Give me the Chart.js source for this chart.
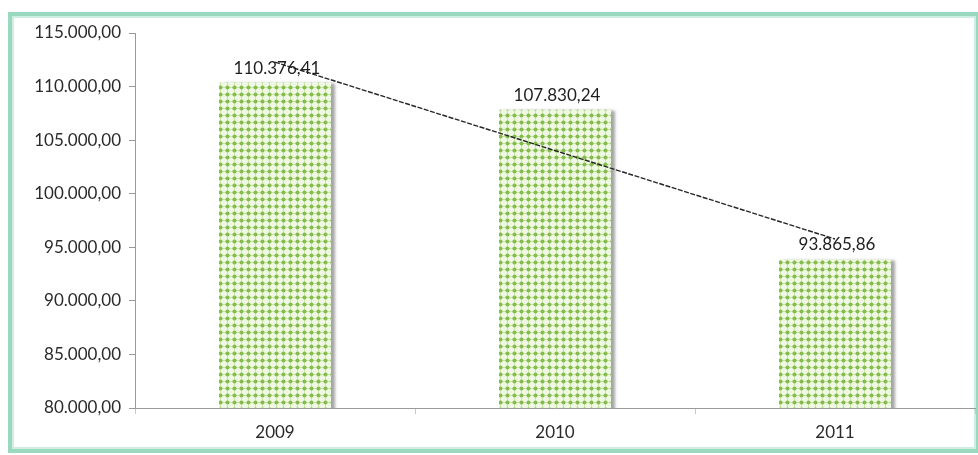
<!DOCTYPE html>
<html>
<head>
<meta charset="utf-8">
<script src="https://cdn.jsdelivr.net/npm/chart.js@4/dist/chart.umd.min.js"></script>
<style>
  html, body { margin: 0; padding: 0; background: #fff; }
  #wrap { width: 978px; height: 455px; position: relative; }
</style>
</head>
<body>
<div id="wrap"><canvas id="valueChart"></canvas></div>
<script>
// Yearly totals with a linear trend line
const years = ['2009', '2010', '2011'];
const totals = [110376.41, 107830.24, 93865.86];
const trendValues = [112280, 104025, 95770];
const yTicks = [80000, 85000, 90000, 95000, 100000, 105000, 110000, 115000];

const FONT = 'Lato, "Open Sans", sans-serif';

// 110376.41 -> "110.376,41"
function fmt(v) {
    const parts = v.toFixed(2).split('.');
    const intPart = parts[0].replace(/\B(?=(\d{3})+(?!\d))/g, '.');
    return intPart + ',' + parts[1];
}

// green dotted fill for the bars
function dotPattern() {
    const c = document.createElement('canvas');
    c.width = 7;
    c.height = 7;
    const p = c.getContext('2d');
    p.fillStyle = '#eef8e2';
    p.fillRect(0, 0, 7, 7);
    p.fillStyle = '#cbe6a8';
    p.fillRect(0, 3, 7, 1);
    p.fillRect(3, 0, 1, 7);
    p.fillStyle = '#86bb4e';
    p.beginPath();
    p.arc(3.5, 3.5, 2.1, 0, Math.PI * 2);
    p.fill();
    return p.createPattern(c, 'repeat');
}

const framePlugin = {
    id: 'frame',
    beforeDraw(chart) {
        const c = chart.ctx;
        c.save();
        c.fillStyle = '#fff';
        c.fillRect(0, 0, chart.width, chart.height);
        c.strokeStyle = '#9bd8c0';
        c.lineWidth = 4;
        c.strokeRect(10, 14, 968, 437);
        c.strokeStyle = '#cdefe2';
        c.lineWidth = 2;
        c.strokeRect(13, 17, 962, 431);
        c.restore();
    }
};

const shadowPlugin = {
    id: 'barShadow',
    beforeDatasetDraw(chart, args) {
        if (args.meta.type !== 'bar') return;
        const c = chart.ctx;
        c.save();
        c.shadowColor = 'rgba(0, 0, 0, 0.35)';
        c.shadowOffsetX = 4;
        c.shadowOffsetY = 1;
        c.shadowBlur = 3;
    },
    afterDatasetDraw(chart, args) {
        if (args.meta.type !== 'bar') return;
        chart.ctx.restore();
    }
};

const labelPlugin = {
    id: 'barLabels',
    afterDatasetsDraw(chart) {
        const c = chart.ctx;
        const meta = chart.getDatasetMeta(0);
        c.save();
        c.font = '17px ' + FONT;
        c.fillStyle = '#1e1e1e';
        c.textAlign = 'center';
        c.textBaseline = 'bottom';
        meta.data.forEach((bar, i) => {
            c.fillText(fmt(totals[i]), bar.x + 2, bar.y - 6);
        });
        c.restore();
    }
};

const ctx = document.getElementById('valueChart').getContext('2d');

new Chart(ctx, {
    data: {
        labels: years,
        datasets: [
            {
                type: 'bar',
                data: totals,
                backgroundColor: dotPattern(),
                borderWidth: 0,
                barPercentage: 0.4,
                categoryPercentage: 1,
                order: 1
            },
            {
                type: 'line',
                data: trendValues,
                borderColor: '#262626',
                borderWidth: 1.4,
                borderDash: [5, 1.5],
                pointRadius: 0,
                tension: 0,
                fill: false,
                order: 0
            }
        ]
    },
    options: {
        responsive: true,
        maintainAspectRatio: false,
        animation: false,
        layout: { padding: { top: 33, right: 3, bottom: 0, left: 0 } },
        scales: {
            x: {
                offset: true,
                grid: {
                    display: true,
                    drawOnChartArea: false,
                    offset: true,
                    tickLength: 6,
                    color: '#c8c8c8'
                },
                border: { display: true, color: '#9a9a9a', width: 1 },
                ticks: {
                    color: '#2a2a2a',
                    font: { family: FONT, size: 17 },
                    padding: 8
                },
                afterFit(scale) { scale.height = 47; }
            },
            y: {
                min: 80000,
                max: 115000,
                afterBuildTicks(scale) {
                    scale.ticks = yTicks.map(v => ({ value: v }));
                },
                grid: {
                    display: true,
                    drawOnChartArea: false,
                    tickLength: 6,
                    color: '#9a9a9a'
                },
                border: { display: true, color: '#9a9a9a', width: 1 },
                ticks: {
                    color: '#2a2a2a',
                    font: { family: FONT, size: 17 },
                    padding: 8,
                    callback: (v) => fmt(v)
                },
                afterFit(scale) { scale.width = 135; }
            }
        },
        plugins: {
            legend: { display: false },
            tooltip: { enabled: false }
        }
    },
    plugins: [framePlugin, shadowPlugin, labelPlugin]
});
</script>
</body>
</html>
